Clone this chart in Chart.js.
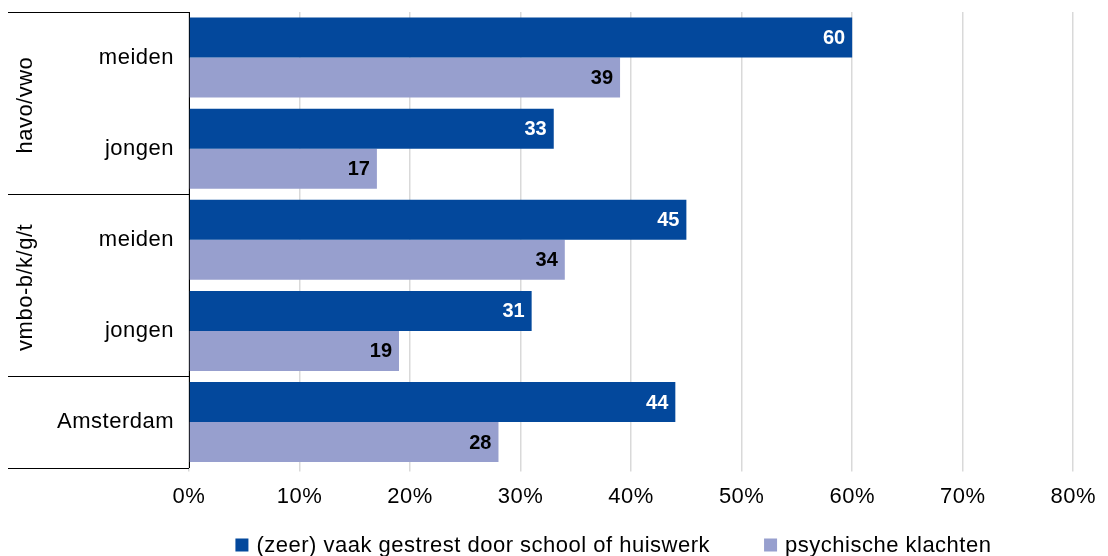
<!DOCTYPE html>
<html lang="en">
<head>
<meta charset="UTF-8">
<title>Gestrest door school</title>
<style>
  body { margin: 0; background: #fff; }
  #wrap { width: 1108px; height: 556px; position: relative; }
</style>
</head>
<body>
<div id="wrap"><canvas id="chart"></canvas></div>

<script src="https://cdn.jsdelivr.net/npm/chart.js@4.4.1/dist/chart.umd.min.js"></script>
<script>
  // data
  var categories = ['meiden', 'jongen', 'meiden', 'jongen', 'Amsterdam'];
  var groupLabels = ['havo/vwo', 'vmbo-b/k/g/t', ''];
  var groupStart = [0, 2, 4];
  var groupEnd = [1, 3, 4];
  var seriesNames = ['(zeer) vaak gestrest door school of huiswerk', 'psychische klachten'];
  var gestrest = [60, 33, 45, 31, 44];
  var klachten = [39, 17, 34, 19, 28];
  var xTicks = [0, 10, 20, 30, 40, 50, 60, 70, 80];

  var FONT = '"Liberation Sans", Arial, sans-serif';
  var FONT_SIZE = 22;
  var SPACING = '0.5px';
  var darkBlue = '#03489c';
  var lightBlue = '#979fce';

  // Excel-ish text is a bit wider, so add some letter spacing everywhere
  var spacing = {
    id: 'spacing',
    beforeLayout: function (chart) { chart.ctx.letterSpacing = SPACING; },
    beforeDraw: function (chart) { chart.ctx.letterSpacing = SPACING; }
  };

  // value labels inside the end of each bar
  var valueLabels = {
    id: 'valueLabels',
    afterDatasetsDraw: function (chart) {
      var ctx = chart.ctx;
      ctx.save();
      ctx.letterSpacing = '0px';
      ctx.font = 'bold 20px ' + FONT;
      ctx.textAlign = 'right';
      ctx.textBaseline = 'middle';
      chart.data.datasets.forEach(function (ds, di) {
        var meta = chart.getDatasetMeta(di);
        ctx.fillStyle = di === 0 ? '#ffffff' : '#000000';
        meta.data.forEach(function (bar, i) {
          ctx.fillText(ds.data[i], bar.x - 7, bar.y + 1);
        });
      });
      ctx.restore();
    }
  };

  // group labels and separator lines on the left
  var groupAxis = {
    id: 'groupAxis',
    afterDraw: function (chart) {
      var ctx = chart.ctx;
      var y = chart.scales.y;
      var left = chart.chartArea.left;
      var x0 = 8;
      function edge(i) {
        if (i < 0) return y.top;
        if (i >= categories.length - 1) return y.bottom;
        return (y.getPixelForValue(i) + y.getPixelForValue(i + 1)) / 2;
      }
      ctx.save();
      ctx.strokeStyle = '#000';
      ctx.lineWidth = 1;
      ctx.beginPath();
      var ys = [y.top];
      for (var g = 0; g < groupStart.length; g++) ys.push(edge(groupEnd[g]));
      ys.forEach(function (py) {
        py = Math.round(py) + 0.5;
        ctx.moveTo(x0, py);
        ctx.lineTo(left, py);
      });
      ctx.stroke();
      ctx.fillStyle = '#000';
      ctx.letterSpacing = SPACING;
      ctx.font = FONT_SIZE + 'px ' + FONT;
      ctx.textAlign = 'center';
      ctx.textBaseline = 'middle';
      for (var g2 = 0; g2 < groupLabels.length; g2++) {
        if (!groupLabels[g2]) continue;
        var top = edge(groupStart[g2] - 1);
        var bot = edge(groupEnd[g2]);
        ctx.save();
        ctx.translate(26, (top + bot) / 2 + 2);
        ctx.rotate(-Math.PI / 2);
        ctx.fillText(groupLabels[g2], 0, 0);
        ctx.restore();
      }
      ctx.restore();
    }
  };

  // legend drawn by hand so the gap between items can match
  var bottomLegend = {
    id: 'bottomLegend',
    afterDraw: function (chart) {
      var ctx = chart.ctx;
      var area = chart.chartArea;
      var colors = [darkBlue, lightBlue];
      var box = 13, gap = 8, itemGap = 54;
      ctx.save();
      ctx.letterSpacing = SPACING;
      ctx.font = FONT_SIZE + 'px ' + FONT;
      ctx.textBaseline = 'middle';
      ctx.textAlign = 'left';
      var widths = seriesNames.map(function (s) { return box + gap + ctx.measureText(s).width; });
      var total = widths[0] + itemGap + widths[1];
      var cx = area.left + (area.right - area.left) * 0.48;
      var x = cx - total / 2;
      var yc = chart.height - 11;
      seriesNames.forEach(function (s, i) {
        ctx.fillStyle = colors[i];
        ctx.fillRect(x, yc - box / 2, box, box);
        ctx.fillStyle = '#000';
        ctx.fillText(s, x + box + gap, yc + 1);
        x += widths[i] + itemGap;
      });
      ctx.restore();
    }
  };

  new Chart(document.getElementById('chart'), {
    type: 'bar',
    data: {
      labels: categories,
      datasets: [
        { label: seriesNames[0], data: gestrest, backgroundColor: darkBlue },
        { label: seriesNames[1], data: klachten, backgroundColor: lightBlue }
      ]
    },
    options: {
      indexAxis: 'y',
      responsive: true,
      maintainAspectRatio: false,
      animation: false,
      devicePixelRatio: 1,
      layout: { padding: { top: 12, right: 28, left: 0, bottom: 34 } },
      datasets: { bar: { categoryPercentage: 0.877, barPercentage: 1.0 } },
      scales: {
        x: {
          min: 0,
          max: 80,
          afterBuildTicks: function (axis) {
            axis.ticks = xTicks.map(function (v) { return { value: v }; });
          },
          ticks: {
            callback: function (v) { return v + '%'; },
            color: '#000',
            font: { family: FONT, size: FONT_SIZE },
            padding: 12,
            maxRotation: 0
          },
          grid: { color: '#d9d9d9', lineWidth: 1.5, tickLength: 4, drawTicks: true },
          border: { display: false }
        },
        y: {
          afterFit: function (axis) {
            axis.width = 189;
            axis.paddingTop = 0;
            axis.paddingBottom = 0;
          },
          ticks: {
            color: '#000',
            font: { family: FONT, size: FONT_SIZE },
            padding: 15
          },
          grid: { display: false, drawTicks: false },
          border: { display: true, color: '#000', width: 1 }
        }
      },
      plugins: {
        legend: { display: false },
        tooltip: { enabled: false }
      }
    },
    plugins: [spacing, valueLabels, groupAxis, bottomLegend]
  });
</script>
</body>
</html>
